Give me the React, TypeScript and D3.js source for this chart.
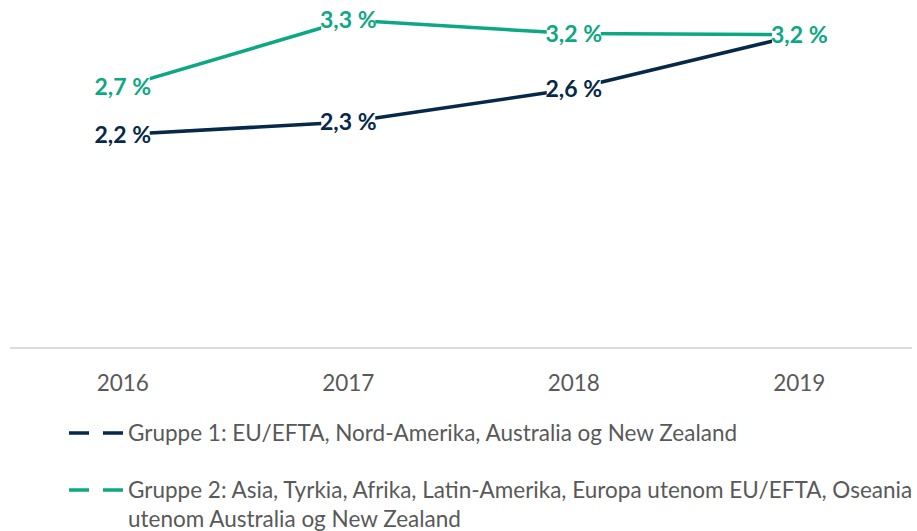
import React from "react";
import * as d3 from "d3";

const years = ["2016", "2017", "2018", "2019"];
const gruppe1 = [2.2, 2.32, 2.64, 3.16];
const gruppe2 = [2.66, 3.3, 3.17, 3.16];
const seriesNames = [
  "Gruppe 1: EU/EFTA, Nord-Amerika, Australia og New Zealand",
  "Gruppe 2: Asia, Tyrkia, Afrika, Latin-Amerika, Europa utenom EU/EFTA, Oseania utenom Australia og New Zealand",
];
const colors = ["#062849", "#0ca883"];

const W = 917;
const H = 531;
const FONT = "Lato, 'Noto Sans', sans-serif";

export default function App() {
  const x = d3.scaleBand<string>().domain(years).range([10, 912]);
  const y = d3.scaleLinear().domain([0, 3.4]).range([363.3, 363.3 - 3.4 * 104]);
  const cx = (yr: string) => (x(yr) as number) + x.bandwidth() / 2;
  const line = d3
    .line<number>()
    .x((_, i) => cx(years[i]))
    .y((v) => y(v));
  const fmt = (v: number) => d3.format(".1f")(v).replace(".", ",") + " %";
  const series = [gruppe1, gruppe2];

  const legendY = [433, 490];
  return (
    <svg width={W} height={H} style={{ position: "absolute", left: 0, top: 0, fontFamily: FONT }}>
      <rect width={W} height={H} fill="#fff" />
      <line x1={10} x2={912} y1={348} y2={348} stroke="#dcdcdc" strokeWidth={2} />
      {years.map((yr) => (
        <text key={yr} x={cx(yr)} y={391} textAnchor="middle" fontSize={22.5} fill="#595959">
          {yr}
        </text>
      ))}
      {series.map((s, si) => (
        <path key={si} d={line(s) || ""} fill="none" stroke={colors[si]} strokeWidth={3.5} />
      ))}
      {series.map((s, si) =>
        s.map((v, i) => (
          <g key={`${si}-${i}`}>
            <rect x={cx(years[i]) - 27} y={y(v) - 10} width={54} height={20} fill="#fff" />
            <text
              x={cx(years[i])}
              y={y(v) + 8}
              textAnchor="middle"
              fontSize={23}
              fontWeight="bold"
              fill={colors[si]}
            >
              {fmt(v)}
            </text>
          </g>
        ))
      )}
      {seriesNames.map((name, si) => (
        <g key={name}>
          <line
            x1={69}
            x2={126}
            y1={legendY[si]}
            y2={legendY[si]}
            stroke={colors[si]}
            strokeWidth={3.5}
            strokeDasharray="20 14"
          />
          {si === 0 ? (
            <text x={128} y={legendY[si] + 8} fontSize={22.5} fill="#595959">
              {name}
            </text>
          ) : (
            <text fontSize={22.5} fill="#595959">
              <tspan x={128} y={legendY[si] + 8}>
                {name.slice(0, name.indexOf(" utenom Australia"))}
              </tspan>
              <tspan x={128} y={legendY[si] + 37}>
                {name.slice(name.indexOf(" utenom Australia") + 1)}
              </tspan>
            </text>
          )}
        </g>
      ))}
    </svg>
  );
}
